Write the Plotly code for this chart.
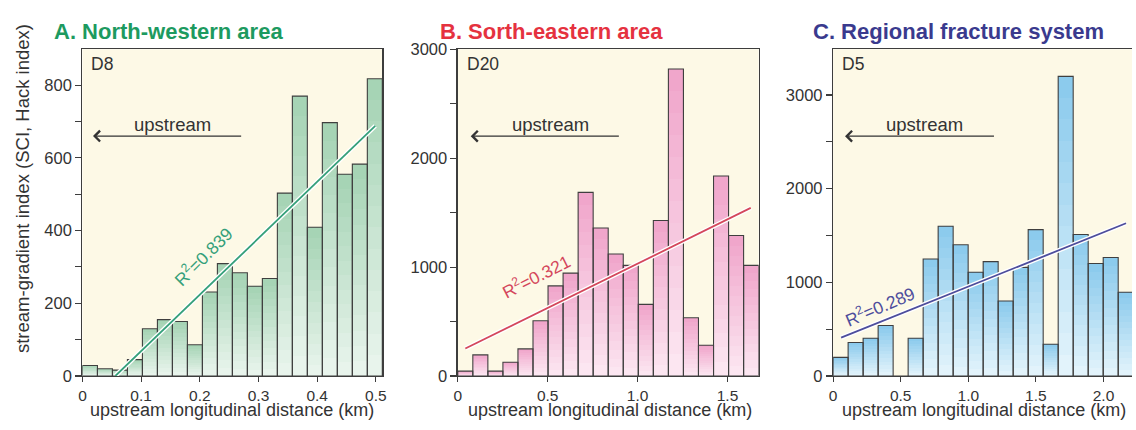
import plotly.graph_objects as go

# ---- data -------------------------------------------------------------
# stream-gradient index per distance bin (20 bins per profile)
sci_d8 = [29, 20, 16, 45, 130, 155, 150, 86, 231, 309,
          284, 247, 268, 503, 770, 409, 697, 555, 583, 818]
sci_d20 = [44, 194, 44, 126, 249, 507, 827, 944, 1686, 1358,
           1120, 1015, 657, 1428, 2818, 534, 282, 1836, 1290, 1015]
sci_d5 = [198, 358, 402, 539, 0, 402, 1248, 1599, 1401, 1108,
          1221, 801, 1159, 1562, 338, 3198, 1510, 1200, 1265, 893]

# bin width along the profile (km)
bin_d8 = 0.02555
bin_d20 = 0.08365
bin_d5 = 0.111

# linear trend end points (distance km, index)
fit_x_d8 = [0.056, 0.499]
fit_y_d8 = [0, 688]
fit_x_d20 = [0.042, 1.629]
fit_y_d20 = [252, 1543]
fit_x_d5 = [0.059, 2.167]
fit_y_d5 = [409, 1630]

r2_d8 = "0.839"
r2_d20 = "0.321"
r2_d5 = "0.289"

panel_titles = ["A. North-western area", "B. Sorth-eastern area", "C. Regional fracture system"]
profile_names = ["D8", "D20", "D5"]

xtick_d8 = [0, 0.1, 0.2, 0.3, 0.4, 0.5]
xtick_d20 = [0, 0.5, 1.0, 1.5]
xtick_d5 = [0, 0.5, 1.0, 1.5, 2.0]
xtext_d8 = ["0", "0.1", "0.2", "0.3", "0.4", "0.5"]
xtext_d20 = ["0", "0.5", "1.0", "1.5"]
xtext_d5 = ["0", "0.5", "1.0", "1.5", "2.0"]

# ---- page geometry ----------------------------------------------------
W, H = 1136, 430


def px(x):
    """pixel x -> paper fraction"""
    return x / W


def py(y):
    """pixel y (from top) -> paper fraction"""
    return (H - y) / H


FONT = "Liberation Sans, Arial, sans-serif"
AXIS_COL = "#3d3d3d"
TEXT_COL = "#333333"
BG = "#fdf9e6"

panels = [
    dict(vals=sci_d8, bw=bin_d8, fx=fit_x_d8, fy=fit_y_d8, r2=r2_d8,
         xdom=(79, 381), xr=[0, 0.511], yr=[0, 899], ydt=200, ymin=100,
         xt=xtick_d8, xtt=xtext_d8,
         top="#a6d4b5", bot="#e8f4ec", line="#35a07a", title_col="#1d9a60",
         arrow=(0.273, 0.018, 660), up=(0.154, 693), lab=(0.205, 330), ang=-45,
         tx=48, ttl=230),
    dict(vals=sci_d20, bw=bin_d20, fx=fit_x_d20, fy=fit_y_d20, r2=r2_d20,
         xdom=(457, 760), xr=[0, 1.673], yr=[0, 3000], ydt=1000, ymin=500,
         xt=xtick_d20, xtt=xtext_d20,
         top="#f0a6cb", bot="#fce6f1", line="#d4475c", title_col="#e5323f",
         arrow=(0.904, 0.072, 2202), up=(0.514, 2311), lab=(0.431, 920), ang=-27,
         tx=437, ttl=610),
    dict(vals=sci_d5, bw=bin_d5, fx=fit_x_d5, fy=fit_y_d5, r2=r2_d5,
         xdom=(835, 1136), xr=[0, 2.211], yr=[0, 3488], ydt=1000, ymin=500,
         xt=xtick_d5, xtt=xtext_d5,
         top="#8ccbed", bot="#e2f3fb", line="#4d4d9c", title_col="#3a3a8e",
         arrow=(1.201, 0.088, 2560), up=(0.679, 2687), lab=(0.341, 745), ang=-23,
         tx=813, ttl=987),
]

Y_BOT, Y_TOP = 383, 42
ydom = [py(Y_BOT), py(Y_TOP)]


def hex_rgb(h):
    h = h.lstrip("#")
    return tuple(int(h[i:i + 2], 16) for i in (0, 2, 4))


def mix(c1, c2, t):
    a, b = hex_rgb(c1), hex_rgb(c2)
    return "rgb(%d,%d,%d)" % tuple(round(a[i] + (b[i] - a[i]) * t) for i in range(3))


fig = go.Figure()
LAYERS = 14
annotations = []

for i, p in enumerate(panels):
    sfx = "" if i == 0 else str(i + 1)
    xa, ya = "x" + sfx, "y" + sfx
    centers = [(k + 0.5) * p["bw"] for k in range(len(p["vals"]))]

    # bars shaded from dark top to pale base
    for k in range(LAYERS):
        frac = 1 - k / LAYERS
        fig.add_trace(go.Bar(
            x=centers, y=[v * frac for v in p["vals"]], width=p["bw"],
            marker=dict(color=mix(p["top"], p["bot"], k / (LAYERS - 1)), line=dict(width=0)),
            xaxis=xa, yaxis=ya, showlegend=False, hoverinfo="skip"))
    # bar outlines
    fig.add_trace(go.Bar(
        x=centers, y=p["vals"], width=p["bw"],
        marker=dict(color="rgba(0,0,0,0)", line=dict(color="#3f3f3f", width=1.1)),
        xaxis=xa, yaxis=ya, showlegend=False))

    # trend line with white halo
    fig.add_trace(go.Scatter(x=p["fx"], y=p["fy"], mode="lines",
                             line=dict(color="white", width=4.5),
                             xaxis=xa, yaxis=ya, showlegend=False, hoverinfo="skip"))
    fig.add_trace(go.Scatter(x=p["fx"], y=p["fy"], mode="lines",
                             line=dict(color=p["line"], width=1.8),
                             xaxis=xa, yaxis=ya, showlegend=False))

    x0, x1 = p["xdom"]
    fig.update_layout(**{
        "xaxis" + sfx: dict(
            domain=[px(x0), min(1.0, px(x1))], range=p["xr"], anchor=ya,
            tickvals=p["xt"], ticktext=p["xtt"], ticks="outside", ticklen=5,
            tickwidth=1.1, tickcolor=AXIS_COL,
            showline=True, linecolor=AXIS_COL, linewidth=1.3, mirror=True,
            showgrid=False, zeroline=False,
            tickfont=dict(family=FONT, size=15.5, color=TEXT_COL)),
        "yaxis" + sfx: dict(
            domain=ydom, range=p["yr"], anchor=xa, dtick=p["ydt"], tick0=0,
            ticks="outside", ticklen=6, tickwidth=1.1, tickcolor=AXIS_COL,
            minor=dict(dtick=p["ymin"], tick0=0, ticks="outside", ticklen=6,
                       tickcolor=AXIS_COL, tickwidth=1.1),
            showline=True, linecolor=AXIS_COL, linewidth=1.3,
            mirror=(i < 2), showgrid=False, zeroline=False,
            tickfont=dict(family=FONT, size=16.5, color=TEXT_COL)),
    })

    # panel title
    annotations.append(dict(
        text="<b>%s</b>" % panel_titles[i], xref="paper", yref="paper",
        x=px(p["tx"]), y=py(24), xanchor="left", yanchor="middle",
        showarrow=False, font=dict(family=FONT, size=22, color=p["title_col"])))
    # profile name
    annotations.append(dict(
        text=profile_names[i], xref="paper", yref="paper",
        x=px(x0 + 7), y=py(57), xanchor="left", yanchor="middle",
        showarrow=False, font=dict(family=FONT, size=17.5, color=TEXT_COL)))
    # upstream arrow
    tail, head, ay = p["arrow"]
    annotations.append(dict(
        x=head, y=ay, ax=tail, ay=ay, xref=xa, yref=ya, axref=xa, ayref=ya,
        text="", showarrow=True, arrowhead=4, arrowsize=1.6, arrowwidth=1.3,
        arrowcolor=TEXT_COL, standoff=0))
    annotations.append(dict(
        text="upstream", x=p["up"][0], y=p["up"][1], xref=xa, yref=ya,
        showarrow=False, font=dict(family=FONT, size=18.5, color=TEXT_COL)))
    # coefficient of determination
    annotations.append(dict(
        text="R<sup>2</sup>=%s" % p["r2"], x=p["lab"][0], y=p["lab"][1],
        xref=xa, yref=ya, showarrow=False, textangle=p["ang"],
        font=dict(family=FONT, size=17.5, color=p["line"])))
    # x axis title, kept inside the page bottom
    annotations.append(dict(
        text="upstream longitudinal distance (km)", xref="paper", yref="paper",
        x=px(p["ttl"]), y=0, xanchor="center", yanchor="bottom", showarrow=False,
        borderpad=0, font=dict(family=FONT, size=18, color=TEXT_COL)))

annotations.append(dict(
    text="stream-gradient index (SCI, Hack index)", xref="paper", yref="paper",
    x=px(18), y=py(187), textangle=-90, xanchor="center", yanchor="middle",
    showarrow=False, font=dict(family=FONT, size=18.5, color=TEXT_COL)))

fig.update_layout(
    width=W, height=H, margin=dict(l=0, r=0, t=0, b=0),
    paper_bgcolor="white", plot_bgcolor=BG,
    barmode="overlay", bargap=0,
    annotations=annotations, showlegend=False,
)

fig.write_html("out.html", config={"staticPlot": True, "displayModeBar": False})
